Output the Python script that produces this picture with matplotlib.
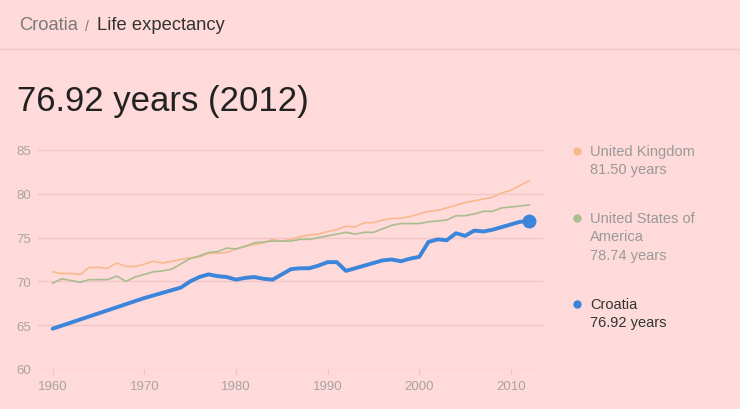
import matplotlib
matplotlib.use("Agg")
import matplotlib.pyplot as plt
from matplotlib.lines import Line2D

plt.rcParams['font.family'] = ['Liberation Sans', 'DejaVu Sans']

years = list(range(1960, 2013))

croatia = [64.6, 64.95, 65.3, 65.65, 66.0, 66.35, 66.7, 67.05, 67.4, 67.75,
           68.1, 68.4, 68.7, 69.0, 69.3, 70.0, 70.5, 70.8, 70.6, 70.5,
           70.2, 70.4, 70.5, 70.3, 70.2, 70.8, 71.4, 71.5, 71.5, 71.8,
           72.2, 72.2, 71.2, 71.5, 71.8, 72.1, 72.4, 72.5, 72.3, 72.6,
           72.8, 74.5, 74.8, 74.7, 75.5, 75.2, 75.8, 75.7, 75.9, 76.2,
           76.5, 76.8, 76.92]

uk = [71.1, 70.9, 70.9, 70.8, 71.6, 71.6, 71.5, 72.1, 71.7, 71.7,
      71.97, 72.3, 72.1, 72.3, 72.5, 72.7, 72.8, 73.2, 73.2, 73.3,
      73.7, 74.0, 74.2, 74.4, 74.8, 74.6, 74.8, 75.1, 75.3, 75.4,
      75.7, 75.9, 76.3, 76.2, 76.7, 76.7, 77.0, 77.2, 77.2, 77.4,
      77.7, 78.0, 78.1, 78.4, 78.7, 79.0, 79.2, 79.4, 79.6, 80.1,
      80.4, 80.95, 81.5]

usa = [69.8, 70.3, 70.1, 69.9, 70.2, 70.2, 70.2, 70.6, 70.0, 70.5,
       70.8, 71.1, 71.2, 71.4, 72.0, 72.6, 72.9, 73.3, 73.4, 73.8,
       73.7, 74.0, 74.4, 74.5, 74.6, 74.6, 74.6, 74.8, 74.8, 75.0,
       75.2, 75.4, 75.6, 75.4, 75.6, 75.6, 76.0, 76.4, 76.6, 76.6,
       76.6, 76.8, 76.9, 77.0, 77.5, 77.5, 77.7, 78.0, 78.0, 78.4,
       78.5, 78.6, 78.74]

yticks = [60, 65, 70, 75, 80, 85]
xticks = [1960, 1970, 1980, 1990, 2000, 2010]

bg = '#ffdada'
c_uk = '#f8b98d'
c_usa = '#a9bd90'
c_hr = '#3b85da'

fig = plt.figure(figsize=(7.4, 4.1), dpi=100, facecolor=bg)

# header
fig.text(19/740, 1 - 26/410, 'Croatia', fontsize=13.2, color='#7a7a7a', va='center')
fig.text(85/740, 1 - 27/410, '/', fontsize=10, color='#7a7a7a', va='center')
fig.text(97/740, 1 - 26/410, 'Life expectancy', fontsize=13.2, color='#333333', va='center')
fig.add_artist(Line2D([0, 1], [1 - 49.5/410, 1 - 49.5/410], color='#f0c8c8', lw=1))
fig.text(17/740, 1 - 102/410, '76.92 years (2012)', fontsize=25, color='#222222', va='center')

ax = fig.add_axes([38/740, 40/410, 505/740, 219/410])
ax.set_facecolor(bg)
ax.set_xlim(1958.4, 2013.5)
ax.set_ylim(60, 85)

ax.plot(years, uk, color=c_uk, lw=1.2, clip_on=False)
ax.plot(years, usa, color=c_usa, lw=1.2, clip_on=False)
ax.plot(years, croatia, color=c_hr, lw=2.8, clip_on=False, solid_capstyle='round')
ax.plot(years[-1], croatia[-1], 'o', color=c_hr, ms=9, clip_on=False)

ax.set_yticks(yticks)
ax.set_xticks(xticks)
ax.grid(axis='y', color='#f2c6c6', lw=1)
ax.set_axisbelow(True)
for s in ax.spines.values():
    s.set_visible(False)
ax.tick_params(axis='y', length=0, pad=5, labelsize=9.5, labelcolor='#aaa3a3')
ax.tick_params(axis='x', length=4, width=0.8, color='#f0c4c4', pad=4,
               labelsize=9.5, labelcolor='#aaa3a3')

# legend on the right
items = [
    (152, c_uk, ['United Kingdom', '81.50 years'], '#999999'),
    (219, c_usa, ['United States of', 'America', '78.74 years'], '#999999'),
    (305, c_hr, ['Croatia', '76.92 years'], '#333333'),
]
for y0, col, lines, tc in items:
    fig.add_artist(Line2D([577/740], [1 - y0/410], marker='o', color=col,
                          ms=5, lw=0))
    for i, t in enumerate(lines):
        fig.text(590/740, 1 - (y0 + i*18.5)/410, t, fontsize=10.5, color=tc,
                 va='center')

fig.savefig('out.png', dpi=100, facecolor=bg)
